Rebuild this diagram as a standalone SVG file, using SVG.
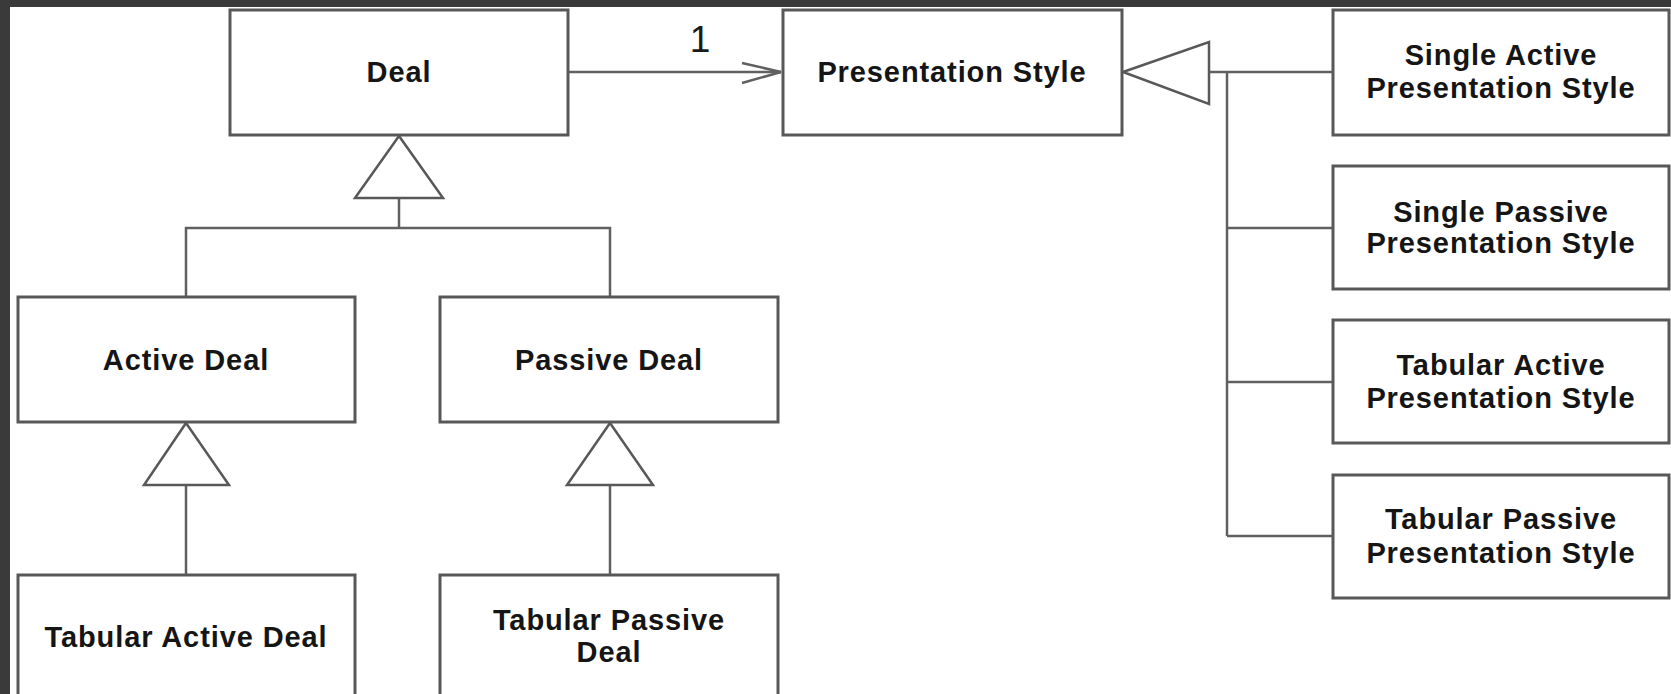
<svg xmlns="http://www.w3.org/2000/svg" width="1671" height="694" viewBox="0 0 1671 694">
  <style>
    .box { fill: #ffffff; stroke: #585858; stroke-width: 3; }
    .lbl { font-family: "Liberation Sans", Arial, sans-serif; font-weight: bold; font-size: 29px; letter-spacing: 0.9px; fill: #151515; text-anchor: middle; }
    .edge { fill: none; stroke: #606060; stroke-width: 2.5; }
    .gen { fill: #ffffff; stroke: #585858; stroke-width: 2.5; stroke-linejoin: miter; }
    .mult { font-family: "Liberation Sans", Arial, sans-serif; font-size: 37px; fill: #1a1a1a; text-anchor: middle; }
  </style>

  <!-- page background and frame edges -->
  <rect x="0" y="0" width="1671" height="694" fill="#ffffff"/>
  <rect x="0" y="0" width="1671" height="7" fill="#3a3a3a"/>
  <rect x="0" y="0" width="10" height="694" fill="#3a3a3a"/>

  <!-- connectors -->
  <g id="connectors">
    <!-- association Deal -> Presentation Style -->
    <line class="edge" x1="568" y1="72" x2="781" y2="72"/>
    <path class="edge" d="M742,63 L781,72 L742,83"/>
    <text class="mult" x="700" y="52">1</text>

    <!-- Deal generalization -->
    <line class="edge" x1="399" y1="198" x2="399" y2="228"/>
    <polyline class="edge" points="186,297 186,228 610,228 610,297"/>
    <polygon class="gen" points="399,136 355,198 443,198"/>

    <!-- Active Deal generalization -->
    <line class="edge" x1="186" y1="485" x2="186" y2="575"/>
    <polygon class="gen" points="186,423 144,485 229,485"/>

    <!-- Passive Deal generalization -->
    <line class="edge" x1="610" y1="485" x2="610" y2="575"/>
    <polygon class="gen" points="610,423 567,485 653,485"/>

    <!-- Presentation Style generalization -->
    <line class="edge" x1="1209" y1="72" x2="1333" y2="72"/>
    <line class="edge" x1="1227" y1="72" x2="1227" y2="536"/>
    <line class="edge" x1="1227" y1="228" x2="1333" y2="228"/>
    <line class="edge" x1="1227" y1="382" x2="1333" y2="382"/>
    <line class="edge" x1="1227" y1="536" x2="1333" y2="536"/>
    <polygon class="gen" points="1123,72 1209,42 1209,104"/>
  </g>

  <g id="deal">
    <rect class="box" x="230" y="10" width="338" height="125"/>
    <text class="lbl" x="399" y="82">Deal</text>
  </g>

  <g id="presentation-style">
    <rect class="box" x="783" y="10" width="339" height="125"/>
    <text class="lbl" x="952" y="82">Presentation Style</text>
  </g>

  <g id="single-active-presentation-style">
    <rect class="box" x="1333" y="10" width="336" height="125"/>
    <text class="lbl" x="1501" y="65">Single Active</text>
    <text class="lbl" x="1501" y="98">Presentation Style</text>
  </g>

  <g id="single-passive-presentation-style">
    <rect class="box" x="1333" y="166" width="336" height="123"/>
    <text class="lbl" x="1501" y="222">Single Passive</text>
    <text class="lbl" x="1501" y="253">Presentation Style</text>
  </g>

  <g id="tabular-active-presentation-style">
    <rect class="box" x="1333" y="320" width="336" height="123"/>
    <text class="lbl" x="1501" y="375">Tabular Active</text>
    <text class="lbl" x="1501" y="408">Presentation Style</text>
  </g>

  <g id="tabular-passive-presentation-style">
    <rect class="box" x="1333" y="475" width="336" height="123"/>
    <text class="lbl" x="1501" y="529">Tabular Passive</text>
    <text class="lbl" x="1501" y="563">Presentation Style</text>
  </g>

  <g id="active-deal">
    <rect class="box" x="18" y="297" width="337" height="125"/>
    <text class="lbl" x="186" y="370">Active Deal</text>
  </g>

  <g id="passive-deal">
    <rect class="box" x="440" y="297" width="338" height="125"/>
    <text class="lbl" x="609" y="370">Passive Deal</text>
  </g>

  <g id="tabular-active-deal">
    <rect class="box" x="18" y="575" width="337" height="140"/>
    <text class="lbl" x="186" y="647">Tabular Active Deal</text>
  </g>

  <g id="tabular-passive-deal">
    <rect class="box" x="440" y="575" width="338" height="140"/>
    <text class="lbl" x="609" y="630">Tabular Passive</text>
    <text class="lbl" x="609" y="662">Deal</text>
  </g>
</svg>
